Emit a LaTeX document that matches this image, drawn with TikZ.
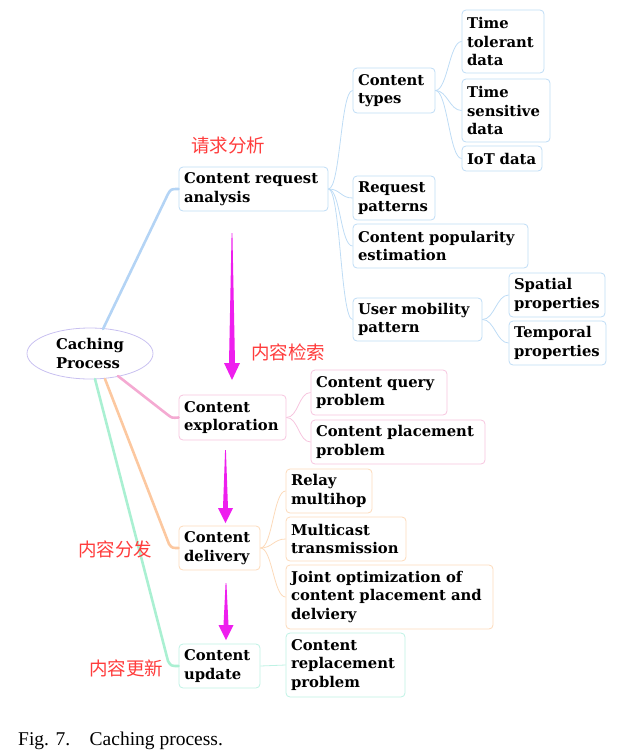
\documentclass[tikz,border=0pt]{standalone}
\usepackage{fontspec}
\usetikzlibrary{shapes.geometric}
\setmainfont{DejaVu Serif}
\newfontfamily\cjk{Noto Sans CJK SC}
\newfontfamily\capfont{Liberation Serif}
\definecolor{cblue}{RGB}{190,220,245}
\definecolor{lblue}{RGB}{180,212,245}
\definecolor{cpink}{RGB}{246,196,222}
\definecolor{lpink}{RGB}{244,170,210}
\definecolor{corange}{RGB}{252,218,186}
\definecolor{lorange}{RGB}{252,200,160}
\definecolor{cgreen}{RGB}{190,242,228}
\definecolor{lgreen}{RGB}{170,240,210}
\definecolor{croot}{RGB}{200,192,240}
\definecolor{mag}{RGB}{238,30,238}
\definecolor{lab}{RGB}{255,60,60}
\tikzset{
  box/.style={draw, rounded corners=4pt, line width=0.8pt, inner xsep=5pt, inner ysep=2pt,
    align=left, font=\fontsize{14.8}{18.5}\selectfont\bfseries, text=black},
  clink/.style={line width=0.8pt},
  rlink/.style={line width=2.6pt, line cap=round},
  zh/.style={font=\cjk\fontsize{18.5}{20}\selectfont, text=lab, inner sep=0pt},
}
\newcommand\bx[7]{\node[box,#6,minimum width=#4pt,minimum height=#5pt,text width=#4pt-10pt] (#1) at (#2,#3) {#7};}
\newcommand\conn[3]{\draw[clink,#1] (#2.east) .. controls +(12,0) and +(-12,0) .. (#3.west);}
\begin{document}
\begin{tikzpicture}[x=1pt,y=-1pt]
\useasboundingbox (0,0) rectangle (623,755);
% root
\node[draw=croot, line width=0.8pt, ellipse, minimum width=126pt, minimum height=51pt, inner sep=0pt,
  align=left, font=\fontsize{14.8}{18.5}\selectfont\bfseries] (root) at (90,353.5) {Caching\\Process};
% level 1
\bx{cra}{253.5}{189}{149}{44}{draw=cblue}{Content request\\analysis}
\bx{ce}{232.5}{417.5}{107}{45}{draw=cpink}{Content\\exploration}
\bx{cd}{219.5}{548}{81}{44}{draw=corange}{Content\\delivery}
\bx{cu}{219.5}{666}{81}{44}{draw=cgreen}{Content\\update}
% level 2 blue
\bx{ct}{394}{90.5}{82}{45}{draw=cblue}{Content\\types}
\bx{ttd}{503}{41.5}{82}{63}{draw=cblue}{Time\\tolerant\\data}
\bx{tsd}{506}{110.5}{88}{63}{draw=cblue}{Time\\sensitive\\data}
\bx{iot}{502}{158.5}{80}{25}{draw=cblue}{IoT data}
\bx{rp}{394}{198}{82}{44}{draw=cblue}{Request\\patterns}
\bx{cpe}{440.5}{246}{175}{44}{draw=cblue}{Content popularity\\estimation}
\bx{ump}{417.5}{319.5}{129}{43}{draw=cblue}{User mobility\\pattern}
\bx{sp}{557}{295}{96}{44}{draw=cblue}{Spatial\\properties}
\bx{tp}{557.5}{343}{97}{44}{draw=cblue}{Temporal\\properties}
% pink
\bx{cqp}{379}{392.5}{136}{45}{draw=cpink}{Content query\\problem}
\bx{cpp}{398}{442}{174}{44}{draw=cpink}{Content placement\\problem}
% orange
\bx{rm}{329}{491}{86}{44}{draw=corange}{Relay\\multihop}
\bx{mt}{346}{539}{120}{44}{draw=corange}{Multicast\\transmission}
\bx{jo}{389.5}{597}{207}{64}{draw=corange}{Joint optimization of\\content placement and\\delviery}
% green
\bx{crp}{345.5}{665}{119}{64}{draw=cgreen}{Content\\replacement\\problem}
% root links
\coordinate (r1) at (103,329);
\coordinate (r2) at (118,376);
\coordinate (r3) at (105,379);
\coordinate (r4) at (95,379);
\draw[rlink,lblue] (r1) -- (168,194) .. controls (171,189) .. (cra.west);
\draw[rlink,lpink] (r2) -- (168,415) .. controls (172,418) .. (ce.west);
\draw[rlink,lorange] (r3) -- (169,544) .. controls (172,548) .. (cd.west);
\draw[rlink,lgreen] (r4) -- (168,661) .. controls (171,666) .. (cu.west);
% child links
\conn{cblue}{cra}{ct}
\conn{cblue}{cra}{rp}
\conn{cblue}{cra}{cpe}
\conn{cblue}{cra}{ump}
\conn{cblue}{ct}{ttd}
\conn{cblue}{ct}{tsd}
\conn{cblue}{ct}{iot}
\conn{cblue}{ump}{sp}
\conn{cblue}{ump}{tp}
\conn{cpink}{ce}{cqp}
\conn{cpink}{ce}{cpp}
\conn{corange}{cd}{rm}
\conn{corange}{cd}{mt}
\conn{corange}{cd}{jo}
\conn{cgreen}{cu}{crp}
% magenta arrows
\fill[mag] (231.6,233) -- (232.4,233) -- (235,363) -- (240,363) -- (232,380) -- (224,363) -- (229,363) -- cycle;
\fill[mag] (225.1,450) -- (225.9,450) -- (228,508) -- (233,508) -- (225.5,523) -- (218,508) -- (223,508) -- cycle;
\fill[mag] (225.6,583) -- (226.4,583) -- (228.5,625) -- (233.5,625) -- (226,640) -- (218.5,625) -- (223.5,625) -- cycle;
% labels
\node[zh] (l1) at (228,145) {请求分析};
\node[zh] (l2) at (288,352) {内容检索};
\node[zh] (l3) at (115,549) {内容分发};
\node[zh] (l4) at (126,668) {内容更新};
% caption
\node[anchor=west, inner sep=0pt, font=\capfont\fontsize{19.5}{22}\selectfont] (cap) at (18,741) {Fig. 7.\hspace{1em}Caching process.};
\end{tikzpicture}
\end{document}
